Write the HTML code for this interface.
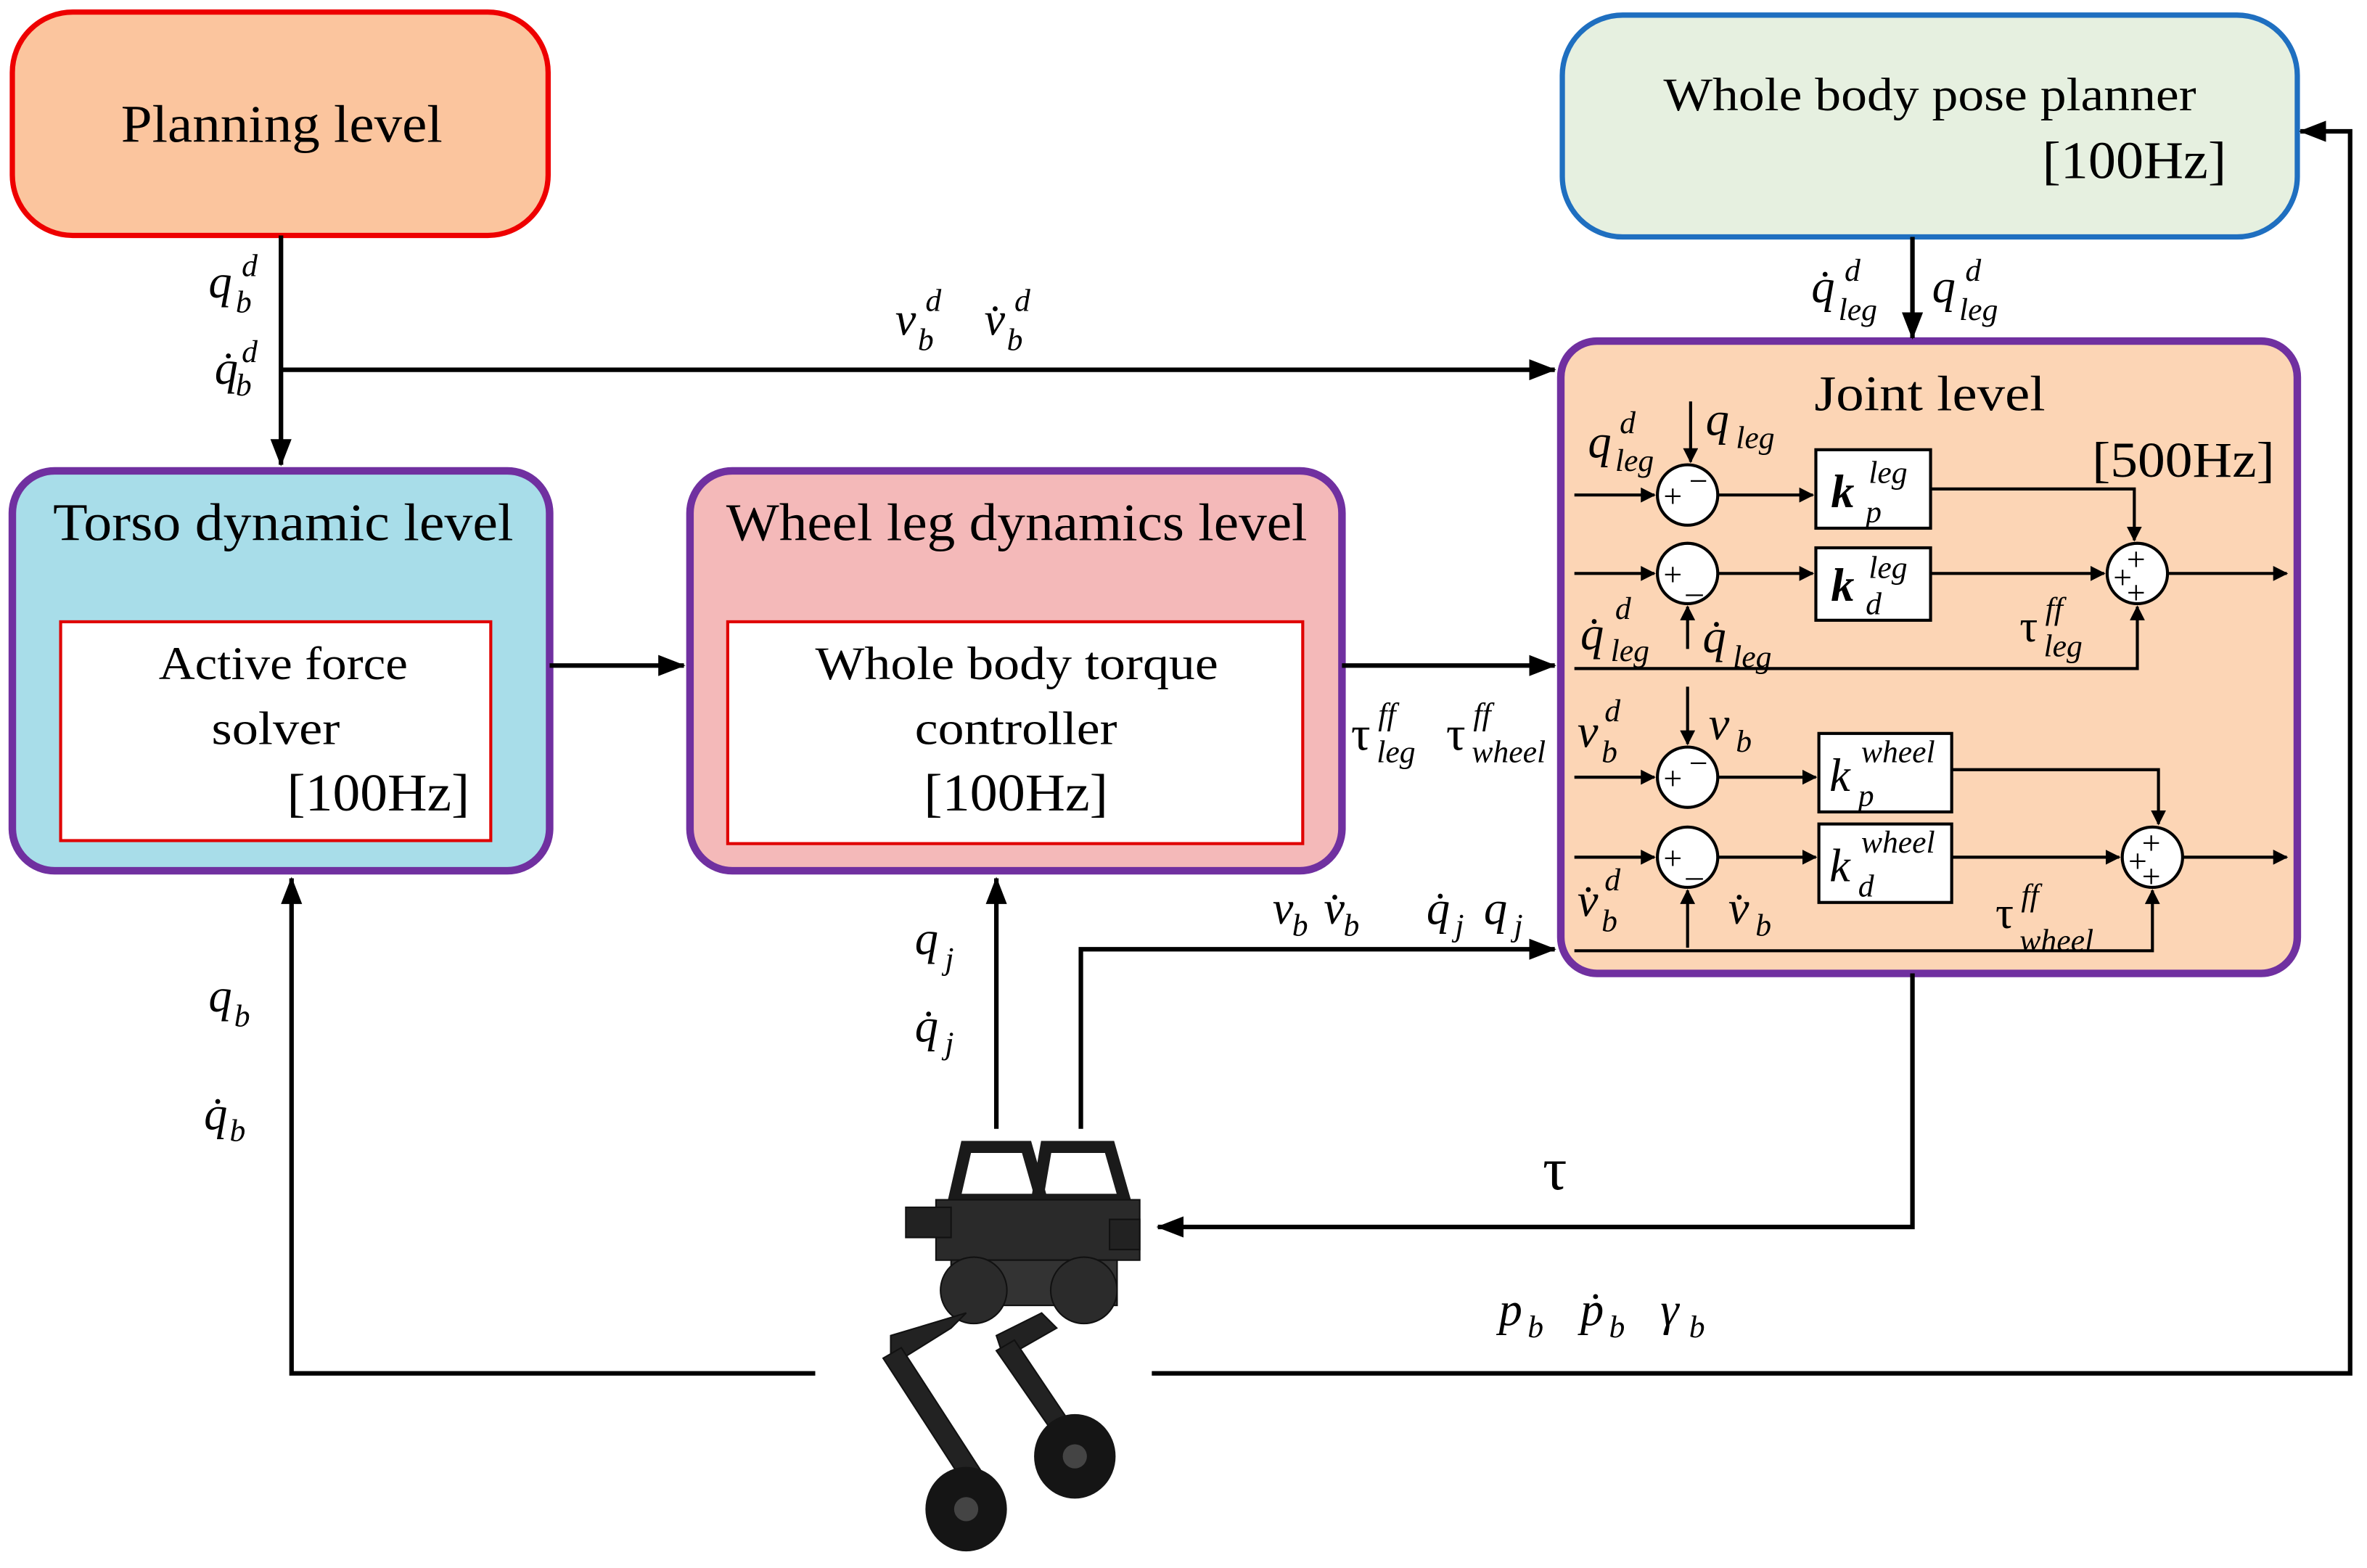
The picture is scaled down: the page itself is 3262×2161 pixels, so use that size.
<!DOCTYPE html>
<html><head><meta charset="utf-8"><style>
html,body{margin:0;padding:0;background:#fff;}
svg{display:block;}
.t{font-family:"Liberation Serif",serif;fill:#000;}
.m{font-family:"Liberation Serif",serif;font-style:italic;fill:#000;font-size:31px;}
.s{font-family:"Liberation Serif",serif;font-style:italic;fill:#000;font-size:21px;}
.l{stroke:#000;stroke-width:3;fill:none;}
.l2{stroke:#000;stroke-width:2;fill:none;}
</style></head><body>
<svg width="3262" height="2161" viewBox="0 0 1568 1039" xmlns="http://www.w3.org/2000/svg">
<defs>
<marker id="a" markerWidth="10" markerHeight="10" refX="9" refY="5" orient="auto" markerUnits="userSpaceOnUse"><path d="M0,0 L18,5 L0,10 z" transform="scale(0.55,1)" fill="#000"/></marker>
<marker id="A" markerWidth="18" markerHeight="14" refX="17" refY="7" orient="auto" markerUnits="userSpaceOnUse"><path d="M0,0 L18,7 L0,14 z" fill="#000"/></marker>
</defs>
<rect width="1568" height="1039" fill="#fff"/>

<rect x="8" y="8" width="355" height="148" rx="40" fill="#fbc59e" stroke="#ee0000" stroke-width="3.5"/>
<text class="t" x="80" y="94" font-size="35" textLength="213" lengthAdjust="spacingAndGlyphs">Planning level</text>

<rect x="1035" y="10" width="487" height="147" rx="40" fill="#e6f0e0" stroke="#1f6fc0" stroke-width="3.5"/>
<text class="t" x="1102" y="73" font-size="31" textLength="353" lengthAdjust="spacingAndGlyphs">Whole body pose planner</text>
<text class="t" x="1353" y="118" font-size="35" textLength="122" lengthAdjust="spacingAndGlyphs">[100Hz]</text>

<rect x="8" y="312" width="356" height="265" rx="28" fill="#a8dde9" stroke="#7030a0" stroke-width="5"/>
<text class="t" x="35" y="358" font-size="35" textLength="305" lengthAdjust="spacingAndGlyphs">Torso dynamic level</text>
<rect x="40" y="412" width="285" height="145" fill="#fff" stroke="#e00000" stroke-width="2"/>
<text class="t" x="105" y="450" font-size="31" textLength="165" lengthAdjust="spacingAndGlyphs">Active force</text>
<text class="t" x="140" y="493" font-size="31" textLength="85" lengthAdjust="spacingAndGlyphs">solver</text>
<text class="t" x="190" y="537" font-size="35" textLength="121" lengthAdjust="spacingAndGlyphs">[100Hz]</text>

<rect x="457" y="312" width="432" height="265" rx="28" fill="#f4b9b9" stroke="#7030a0" stroke-width="5"/>
<text class="t" x="481" y="358" font-size="35" textLength="385" lengthAdjust="spacingAndGlyphs">Wheel leg dynamics level</text>
<rect x="482" y="412" width="381" height="147" fill="#fff" stroke="#e00000" stroke-width="2"/>
<text class="t" x="540" y="450" font-size="31" textLength="267" lengthAdjust="spacingAndGlyphs">Whole body torque</text>
<text class="t" x="606" y="493" font-size="31" textLength="134" lengthAdjust="spacingAndGlyphs">controller</text>
<text class="t" x="612" y="537" font-size="35" textLength="122" lengthAdjust="spacingAndGlyphs">[100Hz]</text>

<rect x="1034" y="226" width="488" height="419" rx="24" fill="#fcd5b5" stroke="#7030a0" stroke-width="5"/>
<text class="t" x="1202" y="272" font-size="33" textLength="153" lengthAdjust="spacingAndGlyphs">Joint level</text>
<text class="t" x="1386" y="316" font-size="33" textLength="121" lengthAdjust="spacingAndGlyphs">[500Hz]</text>

<path class="l" d="M186,156 V308" marker-end="url(#A)"/>
<path class="l" d="M186,245 H1030" marker-end="url(#A)"/>
<path class="l" d="M364,441 H453" marker-end="url(#A)"/>
<path class="l" d="M889,441 H1030" marker-end="url(#A)"/>
<path class="l" d="M1267,157 V224" marker-end="url(#A)"/>
<path class="l" d="M540,910 H193 V582" marker-end="url(#A)"/>
<path class="l" d="M660,748 V582" marker-end="url(#A)"/>
<path class="l" d="M716,748 V629 H1030" marker-end="url(#A)"/>
<path class="l" d="M1267,645 V813 H767" marker-end="url(#A)"/>
<path class="l" d="M763,910 H1557 V87 H1524" marker-end="url(#A)"/>

<text class="m" x="138" y="197">q</text><text class="s" x="160" y="183">d</text><text class="s" x="156" y="207">b</text>
<text class="m" x="142" y="254">q̇</text><text class="s" x="160" y="240">d</text><text class="s" x="156" y="262">b</text>
<text class="m" x="593" y="222">v</text><text class="s" x="613" y="206">d</text><text class="s" x="608" y="232">b</text>
<text class="m" x="652" y="222">v̇</text><text class="s" x="672" y="206">d</text><text class="s" x="667" y="232">b</text>
<text class="m" x="1200" y="200">q̇</text><text class="s" x="1222" y="186">d</text><text class="s" x="1218" y="212">leg</text>
<text class="m" x="1280" y="200">q</text><text class="s" x="1302" y="186">d</text><text class="s" x="1298" y="212">leg</text>
<text class="t" x="895" y="497" font-size="32">τ</text><text class="s" x="913" y="480">ff</text><text class="s" x="912" y="505">leg</text>
<text class="t" x="958" y="497" font-size="32">τ</text><text class="s" x="976" y="480">ff</text><text class="s" x="975" y="505">wheel</text>
<text class="m" x="138" y="670">q</text><text class="s" x="155" y="680">b</text>
<text class="m" x="135" y="748">q̇</text><text class="s" x="152" y="756">b</text>
<text class="m" x="606" y="632">q</text><text class="s" x="626" y="642">j</text>
<text class="m" x="606" y="690">q̇</text><text class="s" x="626" y="698">j</text>
<text class="m" x="843" y="612" font-size="24">v</text><text class="s" x="856" y="620" font-size="16">b</text>
<text class="m" x="877" y="612" font-size="24">v̇</text><text class="s" x="890" y="620" font-size="16">b</text>
<text class="m" x="945" y="612">q̇</text><text class="s" x="964" y="620">j</text>
<text class="m" x="983" y="612">q</text><text class="s" x="1003" y="620">j</text>
<text class="t" x="1022" y="788" font-size="40">τ</text>
<text class="m" x="993" y="878">p</text><text class="s" x="1012" y="886">b</text>
<text class="m" x="1047" y="878">ṗ</text><text class="s" x="1066" y="886">b</text>
<text class="t" x="1100" y="878" font-size="31" font-style="italic">γ</text><text class="s" x="1119" y="886">b</text>

<g class="l2">
<path d="M1043,328 H1096" marker-end="url(#a)"/>
<path d="M1138,328 H1201" marker-end="url(#a)"/>
<path d="M1279,324 H1414 V358" marker-end="url(#a)"/>
<path d="M1043,380 H1096" marker-end="url(#a)"/>
<path d="M1138,380 H1201" marker-end="url(#a)"/>
<path d="M1279,380 H1394" marker-end="url(#a)"/>
<path d="M1436,380 H1515" marker-end="url(#a)"/>
<path d="M1043,443 H1416 V402" marker-end="url(#a)"/>
<path d="M1120,266 V306" marker-end="url(#a)"/>
<path d="M1118,430 V402" marker-end="url(#a)"/>
<path d="M1043,515 H1096" marker-end="url(#a)"/>
<path d="M1138,515 H1203" marker-end="url(#a)"/>
<path d="M1293,510 H1430 V546" marker-end="url(#a)"/>
<path d="M1043,568 H1096" marker-end="url(#a)"/>
<path d="M1138,568 H1203" marker-end="url(#a)"/>
<path d="M1293,568 H1404" marker-end="url(#a)"/>
<path d="M1446,568 H1515" marker-end="url(#a)"/>
<path d="M1043,630 H1426 V590" marker-end="url(#a)"/>
<path d="M1118,455 V493" marker-end="url(#a)"/>
<path d="M1118,628 V590" marker-end="url(#a)"/>
</g>
<g fill="#fff" stroke="#000" stroke-width="2">
<circle cx="1118" cy="328" r="20"/><circle cx="1118" cy="380" r="20"/><circle cx="1416" cy="380" r="20"/>
<circle cx="1118" cy="515" r="20"/><circle cx="1118" cy="568" r="20"/><circle cx="1426" cy="568" r="20"/>
<rect x="1203" y="298" width="76" height="52"/><rect x="1203" y="363" width="76" height="48"/>
<rect x="1205" y="486" width="88" height="52"/><rect x="1205" y="546" width="88" height="52"/>
</g>
<g class="t" font-size="22">
<text x="1102" y="336">+</text><text x="1119" y="326">−</text>
<text x="1102" y="388">+</text><text x="1117" y="392">_</text>
<text x="1102" y="523">+</text><text x="1119" y="513">−</text>
<text x="1102" y="576">+</text><text x="1117" y="580">_</text>
<text x="1409" y="378">+</text><text x="1400" y="390">+</text><text x="1409" y="400">+</text>
<text x="1419" y="566">+</text><text x="1410" y="578">+</text><text x="1419" y="588">+</text>
</g>
<text class="m" x="1213" y="336" font-weight="bold">k</text><text class="s" x="1238" y="320">leg</text><text class="s" x="1236" y="346">p</text>
<text class="m" x="1213" y="398" font-weight="bold">k</text><text class="s" x="1238" y="383">leg</text><text class="s" x="1236" y="407">d</text>
<text class="m" x="1212" y="524">k</text><text class="s" x="1233" y="505">wheel</text><text class="s" x="1231" y="534">p</text>
<text class="m" x="1212" y="584">k</text><text class="s" x="1233" y="565">wheel</text><text class="s" x="1231" y="594">d</text>

<text class="m" x="1052" y="303">q</text><text class="s" x="1073" y="287">d</text><text class="s" x="1070" y="312">leg</text>
<text class="m" x="1130" y="288">q</text><text class="s" x="1150" y="297">leg</text>
<text class="m" x="1047" y="430">q̇</text><text class="s" x="1070" y="410">d</text><text class="s" x="1067" y="438">leg</text>
<text class="m" x="1128" y="432">q̇</text><text class="s" x="1148" y="442">leg</text>
<text class="t" x="1338" y="425" font-size="30">τ</text><text class="s" x="1355" y="410">ff</text><text class="s" x="1354" y="435">leg</text>
<text class="m" x="1045" y="495">v</text><text class="s" x="1063" y="478">d</text><text class="s" x="1061" y="505">b</text>
<text class="m" x="1132" y="490">v</text><text class="s" x="1150" y="498">b</text>
<text class="m" x="1045" y="607">v̇</text><text class="s" x="1063" y="590">d</text><text class="s" x="1061" y="617">b</text>
<text class="m" x="1145" y="612">v̇</text><text class="s" x="1163" y="620">b</text>
<text class="t" x="1322" y="615" font-size="30">τ</text><text class="s" x="1339" y="600">ff</text><text class="s" x="1338" y="630">wheel</text>

<g fill="#222" stroke="#111">
<path d="M640,760 L680,760 L690,795 L632,795 Z" fill="none" stroke="#1a1a1a" stroke-width="8"/>
<path d="M693,760 L735,760 L745,795 L687,795 Z" fill="none" stroke="#1a1a1a" stroke-width="8"/>
<rect x="620" y="795" width="135" height="40" fill="#2a2a2a"/>
<rect x="600" y="800" width="30" height="20"/><rect x="735" y="808" width="20" height="20"/>
<rect x="630" y="835" width="110" height="30" fill="#333"/>
<circle cx="645" cy="855" r="22" fill="#2b2b2b"/><circle cx="718" cy="855" r="22" fill="#2b2b2b"/>
<path d="M640,870 L590,885 L590,905 L630,880 Z"/>
<path d="M690,870 L660,885 L665,900 L700,880 Z"/>
<path d="M585,900 L640,985 L652,978 L597,893 Z"/>
<path d="M660,895 L705,960 L717,955 L672,888 Z"/>
</g>
<g fill="#151515">
<ellipse cx="640" cy="1000" rx="27" ry="28"/>
<ellipse cx="712" cy="965" rx="27" ry="28"/>
</g>
<g fill="#444"><circle cx="640" cy="1000" r="8"/><circle cx="712" cy="965" r="8"/></g>
</svg>
</body></html>
